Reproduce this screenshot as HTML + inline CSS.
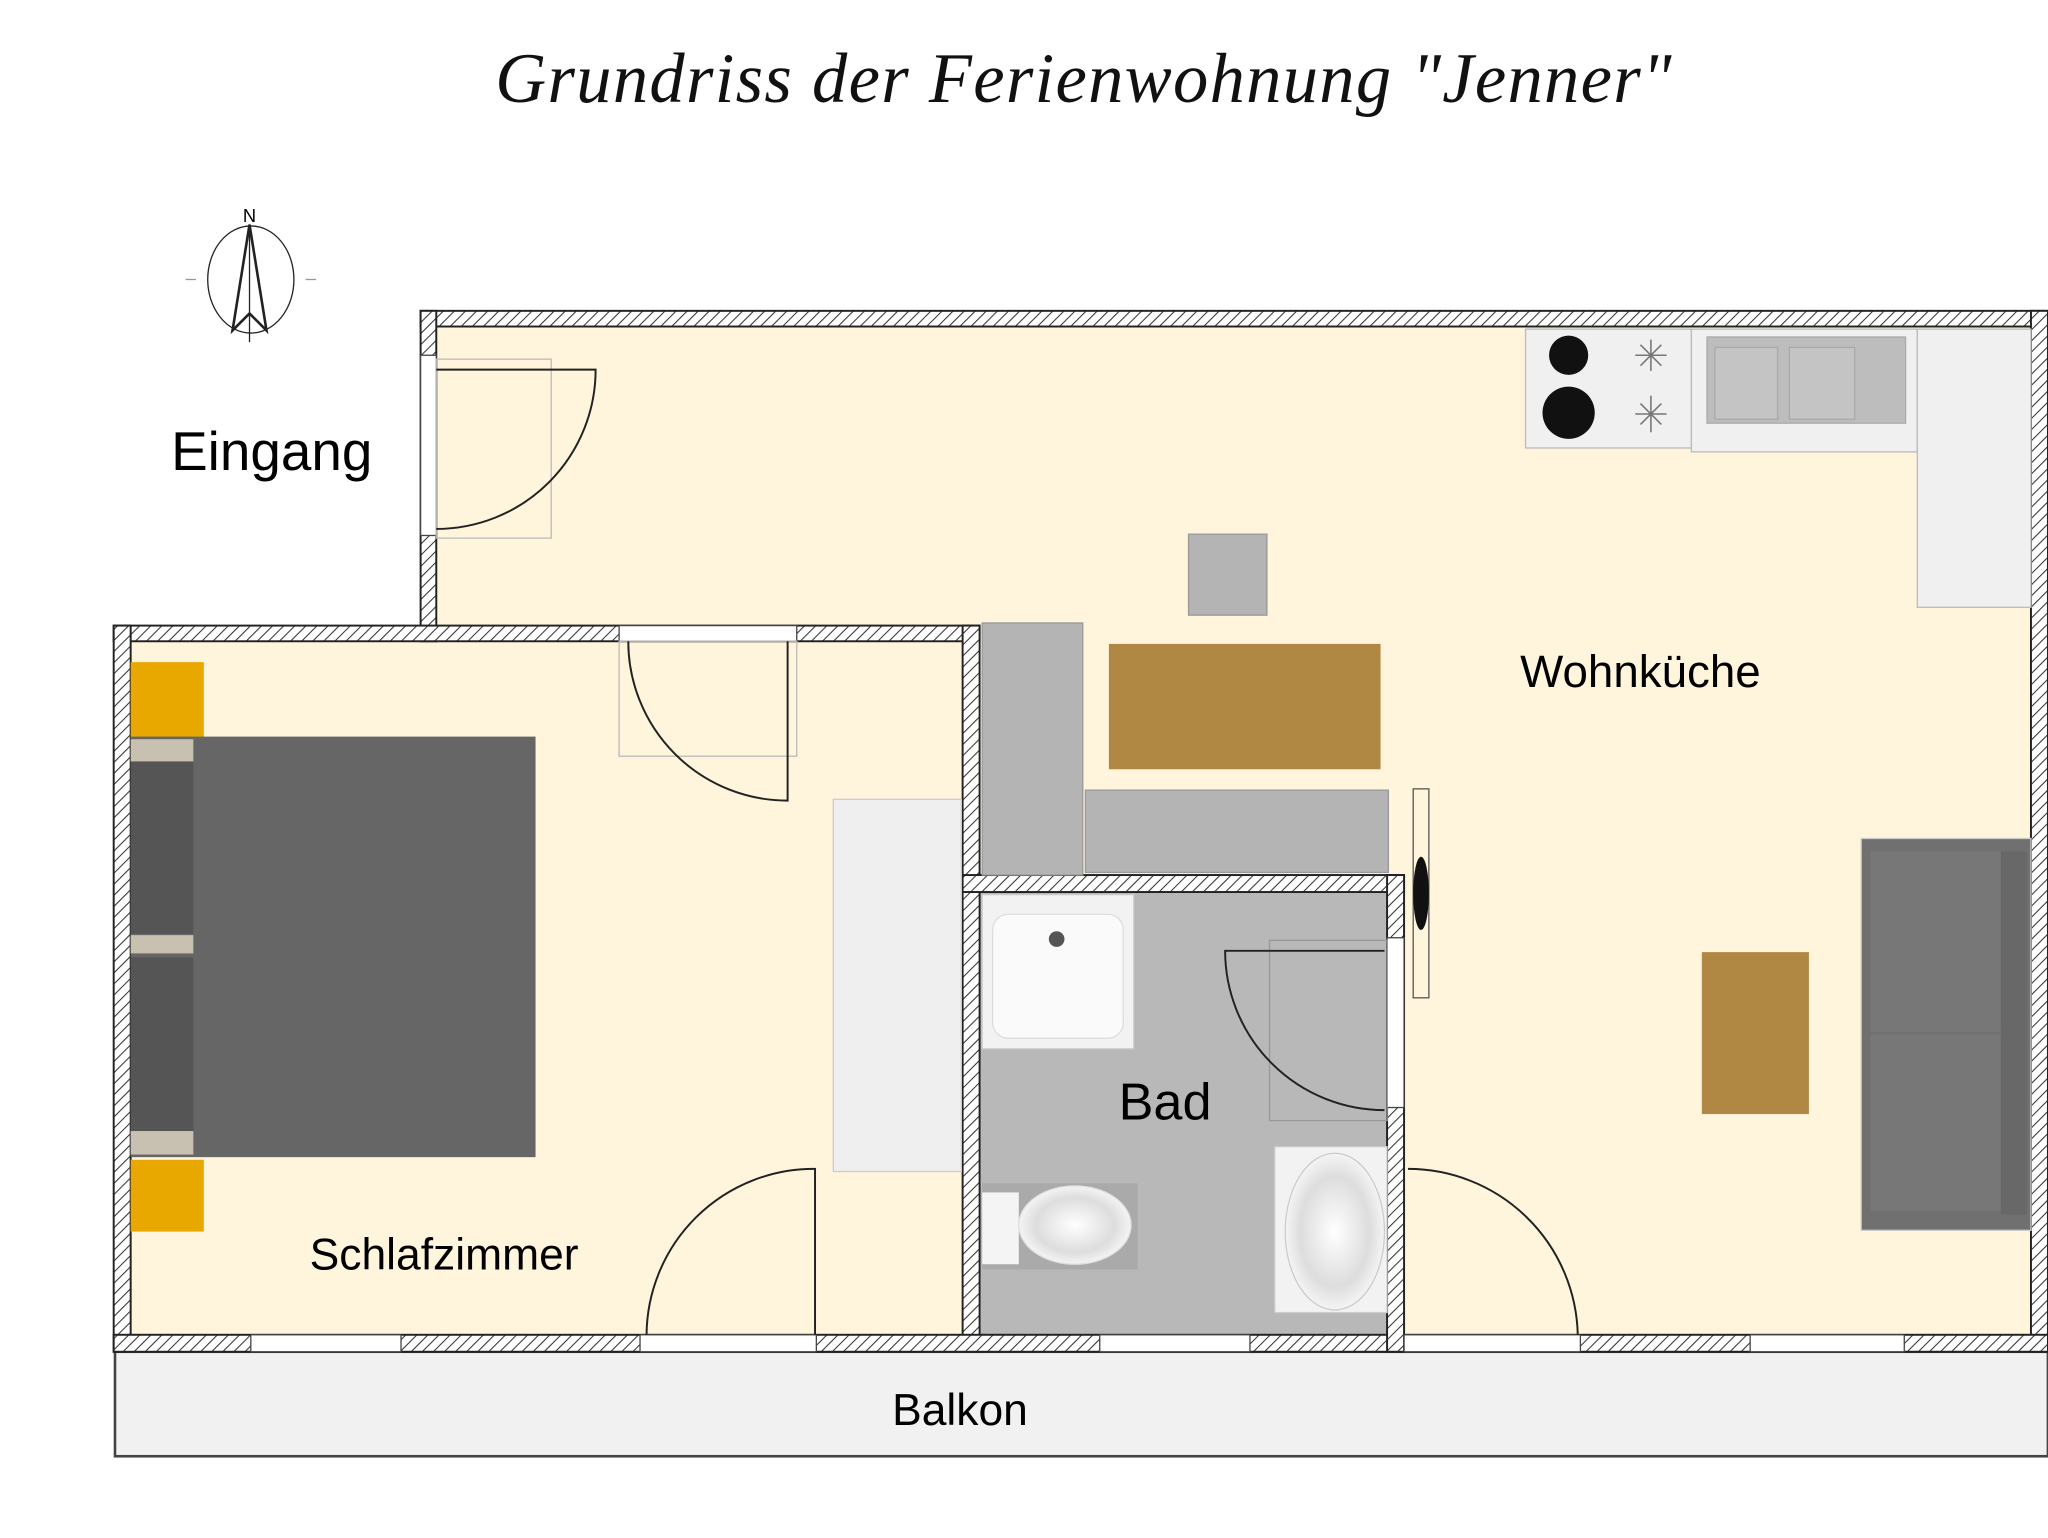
<!DOCTYPE html>
<html><head><meta charset="utf-8"><style>
html,body{margin:0;padding:0;background:#fff;width:2048px;height:1538px;overflow:hidden}
svg{display:block}
</style></head><body>
<svg width="2048" height="1538" viewBox="0 0 1568 1177.6" xmlns="http://www.w3.org/2000/svg">
<defs>
<pattern id="h" width="6" height="6" patternUnits="userSpaceOnUse" patternTransform="rotate(45)">
<rect width="6" height="6" fill="#fff"/><line x1="0" y1="0" x2="0" y2="6" stroke="#333" stroke-width="1.6"/>
</pattern>
<radialGradient id="ws" cx="0.5" cy="0.5" r="0.5"><stop offset="0" stop-color="#fff"/><stop offset="0.7" stop-color="#ddd"/><stop offset="1" stop-color="#f4f4f4"/></radialGradient>
</defs>
<rect width="1568" height="1178" fill="#fff"/>
<text x="830" y="78" text-anchor="middle" font-family="Liberation Serif, serif" font-style="italic" font-size="54" fill="#111" letter-spacing="1">Grundriss der Ferienwohnung "Jenner"</text>
<!-- compass -->
<g stroke="#222" fill="none">
<ellipse cx="192" cy="214" rx="33" ry="41" stroke-width="1"/>
<line x1="142" y1="214" x2="150" y2="214" stroke="#999"/><line x1="234" y1="214" x2="242" y2="214" stroke="#999"/>
<polygon points="191,172 178,253 191,240 204,253" stroke-width="2"/>
<line x1="191" y1="172" x2="191" y2="262" stroke-width="1"/>
</g>
<text x="191" y="170" text-anchor="middle" font-family="Liberation Sans, sans-serif" font-size="14">N</text>
<!-- floors -->
<rect x="334" y="250" width="1221" height="772" fill="#fff5dc"/>
<rect x="100" y="491" width="637" height="531" fill="#fff5dc"/>
<rect x="750" y="683" width="312" height="339" fill="#b8b8b8"/>
<!-- balkon -->
<rect x="88" y="1035" width="1480" height="80" fill="#f1f1f1" stroke="#444" stroke-width="2"/>
<text x="735" y="1091" text-anchor="middle" font-family="Liberation Sans, sans-serif" font-size="34">Balkon</text>
<!-- walls -->
<g fill="url(#h)" stroke="#222" stroke-width="1.5">
<rect x="322" y="238" width="1246" height="12"/>
<rect x="322" y="238" width="12" height="253"/>
<rect x="87" y="479" width="663" height="12"/>
<rect x="87" y="479" width="13" height="556"/>
<rect x="737" y="479" width="13" height="556"/>
<rect x="1555" y="238" width="13" height="797"/>
<rect x="87" y="1022" width="1481" height="13"/>
<rect x="737" y="670" width="338" height="13"/>
<rect x="1062" y="670" width="13" height="365"/>
</g>
<!-- openings -->
<g fill="#fff" stroke="#444" stroke-width="1">
<rect x="322" y="272" width="12" height="138"/>
<rect x="474" y="479" width="136" height="12"/>
<rect x="192" y="1022" width="115" height="13"/>
<rect x="490" y="1022" width="135" height="13"/>
<rect x="842" y="1022" width="115" height="13"/>
<rect x="1075" y="1022" width="135" height="13"/>
<rect x="1340" y="1022" width="118" height="13"/>
<rect x="1062" y="718" width="13" height="130"/>
</g>
<!-- doors -->
<g fill="none" stroke="#222" stroke-width="1.5">
<rect x="334" y="275" width="88" height="137" stroke="#bbb" stroke-width="1"/>
<path d="M334 283 L456 283 A122 122 0 0 1 334 405"/>
<rect x="474" y="491" width="136" height="88" stroke="#bbb" stroke-width="1"/>
<path d="M481 491 A122 122 0 0 0 603 613 L603 491"/>
<path d="M495 1022 A128 128 0 0 1 624 895 L624 1022"/>
<path d="M1078 895 A130 130 0 0 1 1208 1022"/>
<rect x="972" y="720" width="90" height="138" stroke="#999" stroke-width="1"/>
<path d="M1060 728 L938 728 A122 122 0 0 0 1060 850"/>
</g>
<!-- kitchen window/door thing -->
<rect x="1082" y="604" width="12" height="160" fill="#fff5dc" stroke="#555" stroke-width="1"/>
<ellipse cx="1088" cy="684" rx="6" ry="28" fill="#111"/>
<!-- kitchen -->
<rect x="1168" y="252" width="127" height="91" fill="#f0f0f0" stroke="#bbb"/>
<circle cx="1201" cy="272" r="15" fill="#111"/><circle cx="1201" cy="316" r="20" fill="#111"/>
<g stroke="#777" stroke-width="1.2"><path d="M1252 272h24M1264 260v24M1256 264l16 16M1272 264l-16 16"/><path d="M1252 317h24M1264 303v28M1256 309l16 16M1272 309l-16 16"/></g>
<rect x="1295" y="252" width="173" height="94" fill="#f0f0f0" stroke="#bbb"/>
<rect x="1307" y="258" width="152" height="66" fill="#bdbdbd" stroke="#aaa"/>
<rect x="1313" y="266" width="48" height="55" fill="#c4c4c4" stroke="#aaa"/><rect x="1370" y="266" width="50" height="55" fill="#c4c4c4" stroke="#aaa"/>
<rect x="1468" y="252" width="87" height="213" fill="#f0f0f0" stroke="#bbb"/>
<!-- dining -->
<rect x="910" y="409" width="60" height="62" fill="#b4b4b4" stroke="#999"/>
<rect x="849" y="493" width="208" height="96" fill="#b08844"/>
<rect x="752" y="477" width="77" height="193" fill="#b4b4b4" stroke="#999"/>
<rect x="831" y="605" width="232" height="63" fill="#b4b4b4" stroke="#999"/>
<text x="1256" y="526" text-anchor="middle" font-family="Liberation Sans, sans-serif" font-size="35">Wohnküche</text>
<!-- sofa -->
<rect x="1425" y="642" width="130" height="300" fill="#707070" stroke="#ccc"/>
<rect x="1432" y="652" width="100" height="138" fill="#777"/><rect x="1432" y="792" width="100" height="135" fill="#777"/>
<rect x="1532" y="652" width="20" height="278" fill="#686868"/>
<rect x="1303" y="729" width="82" height="124" fill="#b08844"/>
<!-- bad -->
<rect x="752" y="685" width="116" height="118" fill="#f2f2f2" stroke="#ccc"/>
<rect x="760" y="700" width="100" height="95" rx="12" fill="#fafafa" stroke="#ddd"/>
<circle cx="809" cy="719" r="6" fill="#555"/>
<rect x="752" y="906" width="119" height="66" fill="#aaa"/>
<rect x="752" y="913" width="28" height="55" fill="#f4f4f4"/>
<ellipse cx="823" cy="938" rx="43" ry="30" fill="url(#ws)" stroke="#ddd"/>
<rect x="976" y="878" width="86" height="127" fill="#f2f2f2" stroke="#ccc"/>
<ellipse cx="1022" cy="943" rx="38" ry="60" fill="url(#ws)" stroke="#ccc"/>
<text x="892" y="857" text-anchor="middle" font-family="Liberation Sans, sans-serif" font-size="40">Bad</text>
<!-- bedroom -->
<rect x="638" y="612" width="98" height="285" fill="#efefef" stroke="#ccc"/>
<rect x="100" y="507" width="56" height="58" fill="#e9a800"/>
<rect x="100" y="888" width="56" height="55" fill="#e9a800"/>
<rect x="100" y="564" width="310" height="322" fill="#666"/>
<rect x="100" y="580" width="48" height="135" fill="#555"/><rect x="100" y="733" width="48" height="135" fill="#555"/>
<rect x="100" y="566" width="48" height="17" fill="#c8c0b0"/>
<rect x="100" y="716" width="48" height="14" fill="#c8c0b0"/>
<rect x="100" y="866" width="48" height="18" fill="#c8c0b0"/>
<text x="340" y="972" text-anchor="middle" font-family="Liberation Sans, sans-serif" font-size="34">Schlafzimmer</text>
<text x="208" y="360" text-anchor="middle" font-family="Liberation Sans, sans-serif" font-size="42">Eingang</text>
</svg>
</body></html>
